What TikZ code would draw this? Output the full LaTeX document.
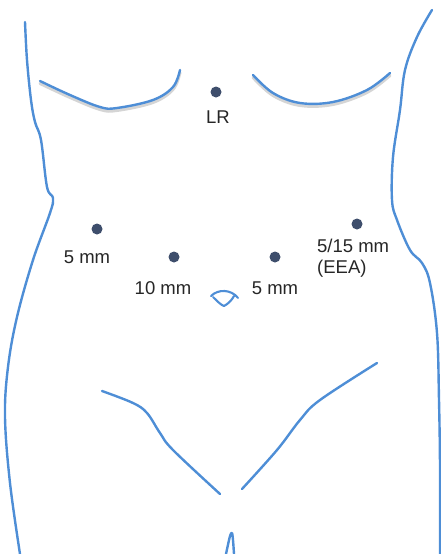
\documentclass[tikz,border=0pt]{standalone}
\usepackage{fontspec}
\setmainfont{Liberation Sans}
\begin{document}
\definecolor{outline}{RGB}{78,142,214}
\definecolor{port}{RGB}{62,78,108}
\definecolor{ribshade}{RGB}{150,150,150}
\begin{tikzpicture}[x=1pt,y=-1pt,
  body/.style={draw=outline,line width=2.4pt,line cap=round,line join=round},
  shade/.style={draw=ribshade,line width=3pt,opacity=0.4,line cap=round},
  portdot/.style={circle,fill=port,inner sep=0pt,minimum size=11pt},
  lbl/.style={font=\fontsize{18.5}{21}\selectfont,text=black!85,inner sep=0pt}]
\useasboundingbox (0,0) rectangle (441,554);

% flanks
\draw[body] plot[smooth,tension=0.6] coordinates {(25,22) (27,60) (31,100) (35,122) (41,140) (47,187) (53,198) (50,213) (33,260) (17,317) (8,367) (5,417) (10,483) (20,554)};
\draw[body] plot[smooth,tension=0.6] coordinates {(432,10) (417,37) (405,70) (400,110) (393,157) (392,200) (397,220) (410,250) (422,263) (430,283) (437,333) (439,400) (440,467) (440,554)};

% costal margins with soft shadow
\begin{scope}[yshift=-2.5pt]
\draw[shade] plot[smooth,tension=0.6] coordinates {(40,81) (70,95) (100,107) (117,108) (153,100) (173,87) (180,70)};
\draw[shade] plot[smooth,tension=0.6] coordinates {(253,75) (273,93) (300,103) (333,102) (367,90) (390,73)};
\end{scope}
\draw[body] plot[smooth,tension=0.6] coordinates {(40,81) (70,95) (100,107) (117,108) (153,100) (173,87) (180,70)};
\draw[body] plot[smooth,tension=0.6] coordinates {(253,75) (273,93) (300,103) (333,102) (367,90) (390,73)};

% umbilicus
\draw[body,line width=2.1pt] (211,296) .. controls (218,289) and (231,289) .. (238,298);
\draw[body,line width=2.1pt] (213,297) .. controls (217,301) and (221,305) .. (224,306) .. controls (228,304) and (232,300) .. (234,296);

% inguinal lines
\draw[body] plot[smooth,tension=0.6] coordinates {(102,391) (133,403) (147,413) (160,433) (173,450) (220,494)};
\draw[body] plot[smooth,tension=0.6] coordinates {(377,363) (320,400) (300,420) (277,450) (242,489)};

% perineal cleft
\draw[body] plot[smooth,tension=0.5] coordinates {(226,554) (230,536) (232,533) (233,540) (234,554)};

% ports
\node[portdot] (lr) at (216,92) {};
\node[lbl] (lrlbl) at (218,117) {LR};
\node[portdot] (p5l) at (97,229) {};
\node[lbl] (p5llbl) at (87,257) {5 mm};
\node[portdot] (p10) at (174,257) {};
\node[lbl] (p10lbl) at (163,288) {10 mm};
\node[portdot] (p5r) at (275,257) {};
\node[lbl] (p5rlbl) at (275,288) {5 mm};
\node[portdot] (eea) at (357,224) {};
\node[lbl,anchor=north west,align=left] (eealbl) at (317,239) {5/15 mm\\(EEA)};
\end{tikzpicture}
\end{document}
